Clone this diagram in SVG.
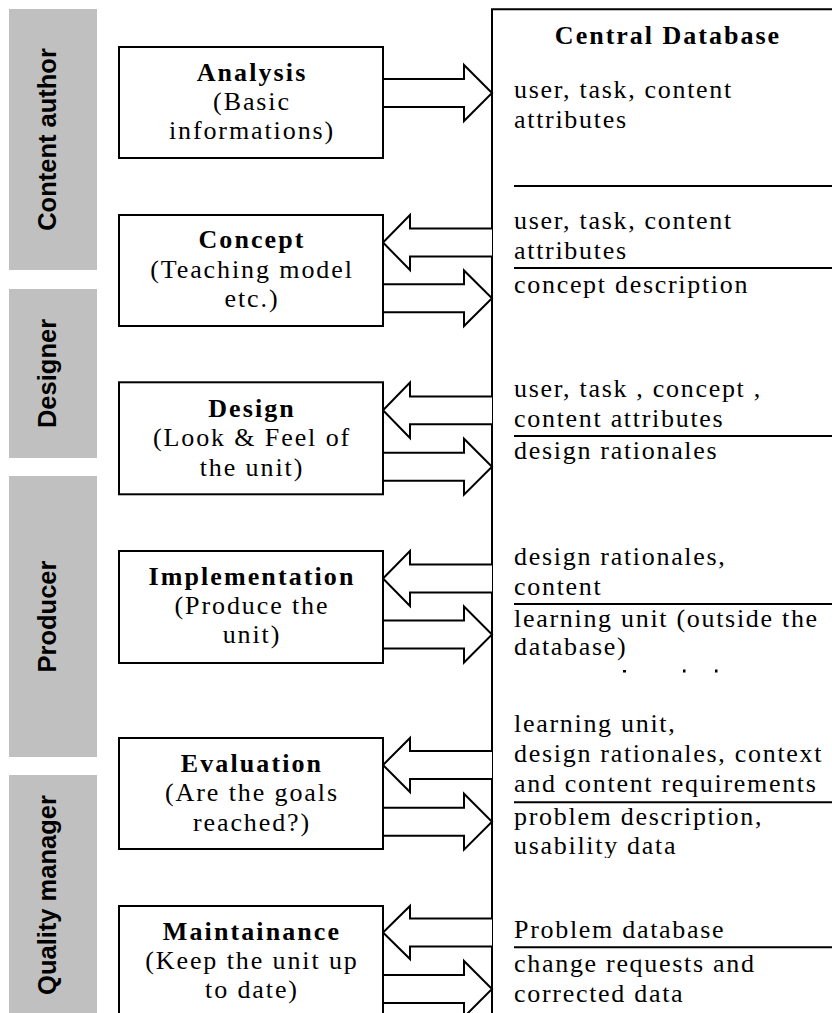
<svg xmlns="http://www.w3.org/2000/svg" width="832" height="1013" viewBox="0 0 832 1013">
<style>
.lane{fill:#c0c0c0}
.lt{font-family:"Liberation Sans",Arial,sans-serif;font-weight:bold;font-size:25.5px;fill:#000;text-anchor:middle}
.box{fill:#fff;stroke:#000;stroke-width:2}
.t{font-family:"Liberation Serif","Times New Roman","DejaVu Serif",serif;font-size:26px;fill:#000;letter-spacing:1.9px;text-anchor:middle}
.b{font-weight:bold;letter-spacing:2.1px}
.d{font-family:"Liberation Serif","Times New Roman","DejaVu Serif",serif;font-size:26px;fill:#000;letter-spacing:1.7px}
.sep{stroke:#000;stroke-width:2}
.arr{fill:#fff;stroke:#000;stroke-width:2;stroke-linejoin:miter}
</style>
<defs>
<clipPath id="clipUse"><rect x="500" y="800" width="332" height="58"/></clipPath>
</defs>
<rect width="832" height="1013" fill="#fff"/>

<g id="lane-content-author">
<rect class="lane" x="9" y="9" width="88" height="261"/>
<text class="lt" transform="translate(55.5,139.5) rotate(-90)">Content author</text>
</g>
<g id="lane-designer">
<rect class="lane" x="9" y="289" width="88" height="169"/>
<text class="lt" transform="translate(55.5,373.5) rotate(-90)">Designer</text>
</g>
<g id="lane-producer">
<rect class="lane" x="9" y="476" width="88" height="281"/>
<text class="lt" transform="translate(55.5,616.5) rotate(-90)">Producer</text>
</g>
<g id="lane-quality-manager">
<rect class="lane" x="9" y="775" width="88" height="245"/>
<text class="lt" transform="translate(55.5,895) rotate(-90)">Quality manager</text>
</g>

<g id="central-database">
<path class="sep" fill="none" d="M492,1020 V9.3 H840"/>
<text class="d b" x="668" y="43.5" text-anchor="middle" style="letter-spacing:2px">Central Database</text>
<text class="d" x="514" y="98">user, task, content</text>
<text class="d" x="514" y="128">attributes</text>
<line class="sep" x1="514" y1="186" x2="832" y2="186"/>
<text class="d" x="514" y="229">user, task, content</text>
<text class="d" x="514" y="258.5">attributes</text>
<line class="sep" x1="514" y1="268" x2="832" y2="268"/>
<text class="d" x="514" y="292.5">concept description</text>
<text class="d" x="514" y="396.5">user, task , concept ,</text>
<text class="d" x="514" y="426.5">content attributes</text>
<line class="sep" x1="514" y1="436" x2="832" y2="436"/>
<text class="d" x="514" y="458.5">design rationales</text>
<text class="d" x="514" y="564.5">design rationales,</text>
<text class="d" x="514" y="594.5">content</text>
<line class="sep" x1="514" y1="604" x2="832" y2="604"/>
<text class="d" x="514" y="626.5">learning unit (outside the</text>
<text class="d" x="514" y="655">database)</text>
<g fill="#000">
<rect x="623" y="670" width="3" height="2.5"/>
<rect x="683" y="669.5" width="2.5" height="3"/>
<rect x="715" y="669.5" width="2.5" height="3"/>
</g>
<text class="d" x="514" y="731.5">learning unit,</text>
<text class="d" x="514" y="761.5">design rationales, context</text>
<text class="d" x="514" y="791.5">and content requirements</text>
<line class="sep" x1="514" y1="802.3" x2="832" y2="802.3"/>
<text class="d" x="514" y="825">problem description,</text>
<text class="d" x="514" y="854.3" clip-path="url(#clipUse)">usability data</text>
<text class="d" x="514" y="938.3">Problem database</text>
<line class="sep" x1="514" y1="947.3" x2="832" y2="947.3"/>
<text class="d" x="514" y="971.5">change requests and</text>
<text class="d" x="514" y="1001.5">corrected data</text>
</g>

<g id="connectors">
<path class="arr" d="M383,79 H464 V65 L492,93 L464,121 V107 H383"/>
<path class="arr" d="M492,228.5 H410 V215 L383,242.5 L410,270 V256.5 H492"/>
<path class="arr" d="M383,284.3 H464 V270.5 L492,298.3 L464,326 V312.3 H383"/>
<path class="arr" d="M492,396.5 H410 V382.5 L383,410.3 L410,438 V424.3 H492"/>
<path class="arr" d="M383,452.7 H464 V438.7 L492,466.7 L464,494.7 V480.7 H383"/>
<path class="arr" d="M492,564.5 H410 V551 L383,578.5 L410,606 V592.5 H492"/>
<path class="arr" d="M383,620.5 H464 V606.5 L492,634.5 L464,662.5 V648.5 H383"/>
<path class="arr" d="M492,751 H410 V738 L383,765 L410,792 V779 H492"/>
<path class="arr" d="M383,807.7 H464 V793.7 L492,821.7 L464,849.7 V835.7 H383"/>
<path class="arr" d="M492,918.5 H410 V906 L383,932.5 L410,959 V946.5 H492"/>
<path class="arr" d="M383,975 H464 V961 L492,989 L464,1017 V1003 H383"/>
</g>

<g id="node-analysis">
<rect class="box" x="119" y="47" width="264" height="111"/>
<text class="t b" x="252" y="81">Analysis</text>
<text class="t" x="252" y="110">(Basic</text>
<text class="t" x="252" y="139.3">informations)</text>
</g>
<g id="node-concept">
<rect class="box" x="119" y="215" width="264" height="111"/>
<text class="t b" x="252" y="248.3">Concept</text>
<text class="t" x="252" y="277.7">(Teaching model</text>
<text class="t" x="252" y="307.3">etc.)</text>
</g>
<g id="node-design">
<rect class="box" x="119" y="382.3" width="264" height="112"/>
<text class="t b" x="252" y="417.3">Design</text>
<text class="t" x="252" y="446">(Look &amp; Feel of</text>
<text class="t" x="252" y="475.7">the unit)</text>
</g>
<g id="node-implementation">
<rect class="box" x="119" y="551" width="264" height="112"/>
<text class="t b" x="252" y="585">Implementation</text>
<text class="t" x="252" y="614.3">(Produce the</text>
<text class="t" x="252" y="643.3">unit)</text>
</g>
<g id="node-evaluation">
<rect class="box" x="119" y="738" width="264" height="111"/>
<text class="t b" x="252" y="771.7">Evaluation</text>
<text class="t" x="252" y="801">(Are the goals</text>
<text class="t" x="252" y="830.7">reached?)</text>
</g>
<g id="node-maintainance">
<rect class="box" x="119" y="906" width="264" height="120"/>
<text class="t b" x="252" y="940">Maintainance</text>
<text class="t" x="252" y="969.3">(Keep the unit up</text>
<text class="t" x="252" y="998.3">to date)</text>
</g>
</svg>
